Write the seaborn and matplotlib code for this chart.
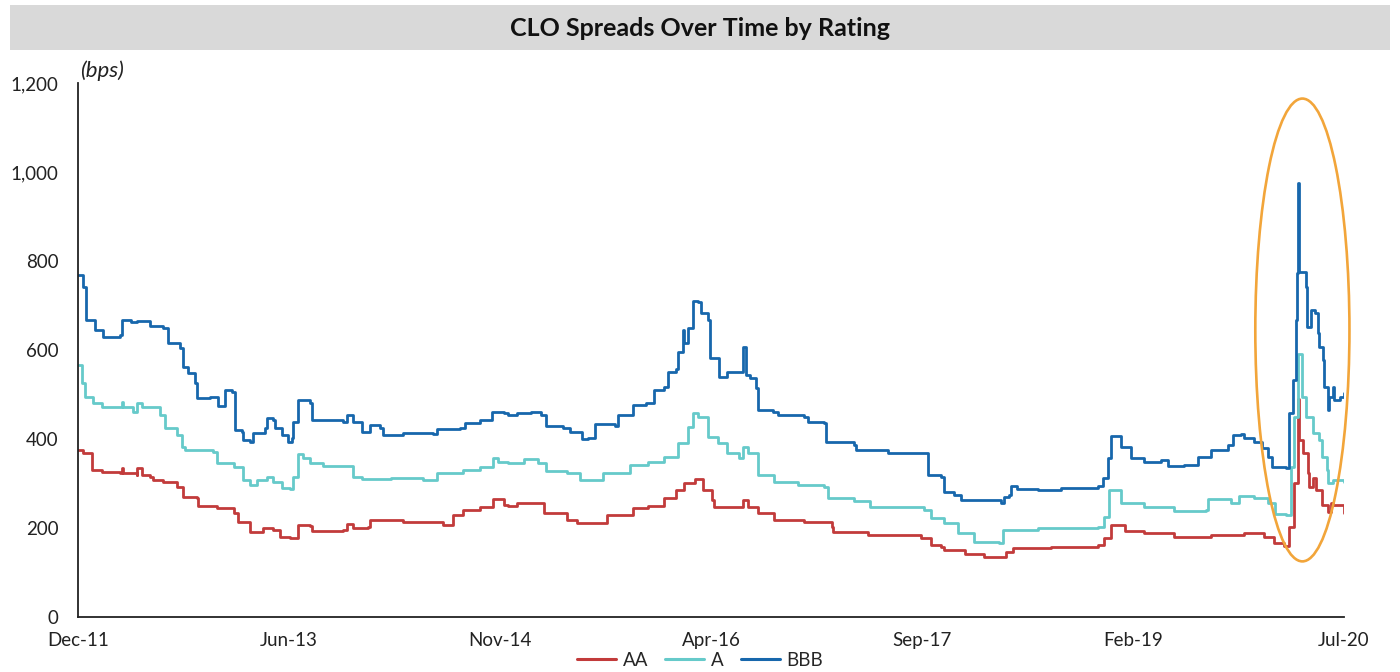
import numpy as np
import pandas as pd
import matplotlib
matplotlib.use("Agg")
import matplotlib.pyplot as plt
import matplotlib.dates as mdates
from matplotlib.patches import Ellipse, Rectangle
from matplotlib.ticker import FuncFormatter
import seaborn as sns

# ---------------- data ----------------
title = "CLO Spreads Over Time by Rating"
unit_label = "(bps)"
series_names = ["AA", "A", "BBB"]
x_tick_labels = ["Dec-11", "Jun-13", "Nov-14", "Apr-16", "Sep-17", "Feb-19", "Jul-20"]
axis_start = "2011-12-30"
axis_end = "2020-07-28"

aa_dates = ["2011-12-30", "2012-01-11", "2012-02-03", "2012-02-28", "2012-04-11", "2012-04-16", "2012-04-19",
            "2012-05-23", "2012-05-25", "2012-06-05", "2012-06-25", "2012-07-02", "2012-07-27", "2012-09-01",
            "2012-09-15", "2012-10-19", "2012-10-22", "2012-12-08", "2013-01-18", "2013-01-28", "2013-02-28",
            "2013-04-01", "2013-04-25", "2013-05-12", "2013-06-07", "2013-06-26", "2013-07-26", "2013-08-01",
            "2013-10-16", "2013-10-26", "2013-11-10", "2013-12-17", "2013-12-22", "2014-03-13", "2014-06-05",
            "2014-06-20", "2014-07-12", "2014-07-15", "2014-08-09", "2014-09-21", "2014-10-23", "2014-11-17",
            "2014-11-27", "2014-12-21", "2015-01-23", "2015-02-24", "2015-04-23", "2015-05-18", "2015-06-27",
            "2015-08-01", "2015-10-04", "2015-11-09", "2015-12-18", "2016-01-17", "2016-02-06", "2016-03-06",
            "2016-03-25", "2016-04-17", "2016-04-20", "2016-06-26", "2016-07-01", "2016-07-13", "2016-08-07",
            "2016-09-16", "2016-11-30", "2017-02-06", "2017-02-10", "2017-05-06", "2017-09-16", "2017-10-10",
            "2017-11-04", "2017-11-12", "2018-01-01", "2018-02-18", "2018-03-27", "2018-04-14", "2018-05-01",
            "2018-08-03", "2018-11-27", "2018-12-12", "2018-12-29", "2019-01-16", "2019-02-01", "2019-03-20",
            "2019-06-03", "2019-09-03", "2019-11-24", "2020-01-13", "2020-02-05", "2020-03-02", "2020-03-15",
            "2020-03-27", "2020-04-06", "2020-04-08", "2020-04-18", "2020-04-30", "2020-05-03", "2020-05-13",
            "2020-05-20", "2020-06-03", "2020-06-19", "2020-06-27", "2020-07-02", "2020-07-24", "2020-07-28"]
aa_values = [375, 368, 330, 326, 324, 335, 324,
             319, 335, 319, 315, 308, 303, 292,
             270, 267, 249, 245, 234, 213, 191,
             200, 195, 180, 178, 207, 204, 193,
             195, 209, 200, 202, 218, 213, 213,
             207, 207, 229, 240, 247, 265, 252,
             249, 256, 256, 234, 218, 211, 211,
             229, 245, 249, 267, 285, 301, 310,
             285, 263, 247, 247, 263, 247, 234,
             218, 213, 202, 191, 184, 178, 162,
             157, 151, 142, 135, 135, 146, 155,
             157, 162, 178, 207, 207, 193, 189,
             180, 184, 189, 180, 166, 160, 202,
             301, 490, 398, 368, 324, 292, 312,
             285, 252, 236, 256, 252, 252, 234]

a_dates = ["2011-12-30", "2012-01-09", "2012-01-16", "2012-02-05", "2012-02-28", "2012-04-11", "2012-04-16",
           "2012-04-19", "2012-05-13", "2012-05-25", "2012-06-05", "2012-07-19", "2012-08-01", "2012-09-01",
           "2012-09-13", "2012-09-20", "2012-11-29", "2012-12-08", "2013-01-18", "2013-02-11", "2013-02-28",
           "2013-03-16", "2013-04-10", "2013-04-25", "2013-05-17", "2013-06-07", "2013-06-14", "2013-06-26",
           "2013-07-09", "2013-07-26", "2013-08-27", "2013-10-26", "2013-11-10", "2013-12-02", "2014-02-11",
           "2014-05-02", "2014-06-05", "2014-08-09", "2014-09-21", "2014-10-23", "2014-11-04", "2014-11-28",
           "2015-01-06", "2015-02-10", "2015-03-01", "2015-04-23", "2015-05-25", "2015-06-27", "2015-07-21",
           "2015-09-27", "2015-11-09", "2015-12-18", "2016-01-22", "2016-02-16", "2016-03-01", "2016-03-13",
           "2016-04-05", "2016-04-30", "2016-05-24", "2016-06-21", "2016-07-01", "2016-07-15", "2016-08-07",
           "2016-09-16", "2016-11-15", "2017-01-19", "2017-01-28", "2017-04-02", "2017-05-13", "2017-08-21",
           "2017-09-23", "2017-10-10", "2017-11-12", "2017-12-16", "2018-01-25", "2018-03-27", "2018-04-06",
           "2018-07-01", "2018-11-27", "2018-12-12", "2018-12-24", "2019-01-16", "2019-01-24", "2019-03-20",
           "2019-06-03", "2019-08-22", "2019-08-27", "2019-10-23", "2019-11-10", "2019-12-19", "2020-01-23",
           "2020-02-08", "2020-03-07", "2020-03-19", "2020-03-27", "2020-04-06", "2020-04-14", "2020-04-26",
           "2020-05-08", "2020-05-13", "2020-05-28", "2020-06-03", "2020-06-15", "2020-06-19", "2020-07-02",
           "2020-07-28"]
a_values = [566, 526, 494, 481, 472, 472, 483,
            472, 461, 481, 472, 454, 425, 409,
            382, 375, 371, 346, 337, 308, 297,
            308, 315, 303, 290, 288, 315, 366,
            357, 346, 339, 339, 315, 310, 312,
            308, 324, 330, 337, 357, 348, 346,
            355, 346, 328, 324, 308, 308, 324,
            342, 348, 360, 391, 427, 458, 449,
            404, 391, 368, 357, 382, 368, 319,
            303, 297, 292, 267, 261, 247, 247,
            240, 222, 211, 189, 169, 166, 195,
            200, 202, 225, 285, 285, 256, 247,
            238, 240, 265, 256, 272, 267, 256,
            231, 229, 337, 449, 590, 495, 449,
            449, 413, 398, 360, 330, 301, 308,
            303]

bbb_dates = ["2011-12-30", "2012-01-11", "2012-01-18", "2012-02-05", "2012-02-10", "2012-02-29", "2012-04-11",
             "2012-04-18", "2012-05-10", "2012-05-23", "2012-06-24", "2012-07-27", "2012-08-08", "2012-09-08",
             "2012-09-15", "2012-09-27", "2012-10-14", "2012-10-19", "2012-11-21", "2012-12-08", "2012-12-10",
             "2012-12-25", "2012-12-28", "2013-01-15", "2013-01-22", "2013-02-09", "2013-02-11", "2013-02-28",
             "2013-03-06", "2013-04-05", "2013-04-10", "2013-04-25", "2013-04-30", "2013-05-19", "2013-06-01",
             "2013-06-11", "2013-06-14", "2013-06-26", "2013-07-26", "2013-08-01", "2013-10-16", "2013-10-26",
             "2013-11-10", "2013-12-02", "2013-12-22", "2014-01-16", "2014-01-24", "2014-03-13", "2014-05-26",
             "2014-06-05", "2014-08-02", "2014-08-14", "2014-09-21", "2014-10-20", "2014-11-17", "2014-11-27",
             "2014-12-21", "2015-01-23", "2015-02-17", "2015-03-01", "2015-04-13", "2015-05-01", "2015-05-30",
             "2015-06-14", "2015-07-02", "2015-08-21", "2015-08-28", "2015-10-02", "2015-10-04", "2015-11-04",
             "2015-11-24", "2015-12-18", "2015-12-28", "2016-01-17", "2016-01-22", "2016-02-04", "2016-02-06",
             "2016-02-16", "2016-02-28", "2016-03-01", "2016-03-13", "2016-03-20", "2016-04-05", "2016-04-12",
             "2016-05-02", "2016-05-04", "2016-05-24", "2016-06-26", "2016-07-01", "2016-07-08", "2016-07-20",
             "2016-08-02", "2016-08-07", "2016-09-14", "2016-09-26", "2016-11-30", "2016-12-09", "2017-01-19",
             "2017-01-24", "2017-04-02", "2017-04-07", "2017-06-25", "2017-09-23", "2017-10-03", "2017-11-04",
             "2017-11-12", "2017-12-06", "2017-12-23", "2018-04-01", "2018-04-08", "2018-04-20", "2018-04-25",
             "2018-05-12", "2018-07-01", "2018-08-27", "2018-11-27", "2018-12-10", "2018-12-22", "2018-12-29",
             "2019-01-16", "2019-01-24", "2019-02-18", "2019-03-13", "2019-03-20", "2019-05-01", "2019-05-19",
             "2019-06-28", "2019-08-02", "2019-09-03", "2019-10-15", "2019-10-28", "2019-11-17", "2019-11-24",
             "2019-12-19", "2020-01-06", "2020-01-23", "2020-01-31", "2020-03-07", "2020-03-15", "2020-03-25",
             "2020-04-01", "2020-04-03", "2020-04-06", "2020-04-08", "2020-04-21", "2020-04-24", "2020-04-28",
             "2020-05-08", "2020-05-18", "2020-05-25", "2020-05-28", "2020-06-07", "2020-06-09", "2020-06-19",
             "2020-06-22", "2020-07-02", "2020-07-04", "2020-07-17", "2020-07-28"]
bbb_values = [768, 741, 667, 667, 645, 629, 634,
              667, 663, 665, 654, 649, 616, 604,
              562, 548, 526, 492, 494, 494, 474,
              474, 510, 506, 420, 416, 398, 393,
              413, 425, 447, 443, 425, 409, 393,
              402, 438, 488, 481, 443, 438, 454,
              438, 416, 431, 425, 409, 413, 411,
              422, 425, 436, 443, 461, 458, 454,
              458, 461, 454, 429, 425, 416, 400,
              402, 434, 429, 454, 454, 476, 481,
              510, 517, 551, 557, 595, 645, 616,
              649, 652, 710, 708, 683, 667, 582,
              582, 539, 551, 551, 607, 544, 537,
              515, 465, 461, 454, 449, 438, 436,
              393, 387, 375, 368, 368, 319, 315,
              281, 274, 263, 256, 270, 274, 294,
              288, 285, 290, 294, 312, 357, 407,
              407, 382, 357, 357, 348, 353, 339,
              342, 360, 375, 387, 409, 411, 402,
              393, 380, 360, 337, 335, 458, 533,
              667, 773, 975, 775, 775, 741, 652,
              690, 683, 638, 607, 577, 517, 465,
              494, 517, 488, 494, 503]

# highlight ellipse around the 2020 spike
highlight_center_date = "2020-04-16"
highlight_center_value = 645
highlight_width_days = 233
highlight_height_value = 1040

# ---------------- styling ----------------
colors = {"AA": "#C23B3B", "A": "#66CACA", "BBB": "#1767AC"}

sns.set_style("white")
plt.rcParams["font.family"] = ["Lato", "DejaVu Sans"]

frames = []
for name, d, v in [("AA", aa_dates, aa_values), ("A", a_dates, a_values), ("BBB", bbb_dates, bbb_values)]:
    frames.append(pd.DataFrame({"date": pd.to_datetime(d), "value": v, "rating": name}))
df = pd.concat(frames, ignore_index=True)

fig = plt.figure(figsize=(14, 6.72), dpi=100)
ax = fig.add_axes([78 / 1400, 1 - 617 / 672, (1344 - 78) / 1400, (617 - 83) / 672])

# title bar
fig.patches.append(Rectangle((10 / 1400, 1 - 50 / 672), 1380 / 1400, 45 / 672,
                             transform=fig.transFigure, facecolor="#D9D9D9", edgecolor="none", zorder=0))
fig.text(0.5, 1 - 29 / 672, title, ha="center", va="center", fontsize=18, fontweight="bold", color="#111111")

sns.lineplot(data=df, x="date", y="value", hue="rating", hue_order=series_names, palette=colors,
             estimator=None, linewidth=2.0, drawstyle="steps-post", ax=ax, legend=False)

start = pd.Timestamp(axis_start)
end = pd.Timestamp(axis_end)
ax.set_xlim(start, end)
ax.set_ylim(0, 1200)
ax.set_yticks(np.arange(0, 1201, 200))
ax.yaxis.set_major_formatter(FuncFormatter(lambda v, p: f"{int(v):,}"))
tick_pos = pd.to_datetime(np.linspace(start.value, end.value, len(x_tick_labels)))
ax.set_xticks(tick_pos)
ax.set_xticklabels(x_tick_labels)
ax.set_xlabel("")
ax.set_ylabel("")

for s in ["top", "right"]:
    ax.spines[s].set_visible(False)
for s in ["left", "bottom"]:
    ax.spines[s].set_color("#222222")
    ax.spines[s].set_linewidth(1.3)
ax.tick_params(axis="both", which="major", direction="out", length=5, width=1.2, color="#222222",
               labelsize=13.5, labelcolor="#222222")
ax.tick_params(axis="y", pad=9)
ax.tick_params(axis="x", pad=6)
ax.grid(False)

ax.text(0.002, 1.004, unit_label, transform=ax.transAxes, ha="left", va="bottom",
        fontsize=16, fontstyle="italic", color="#222222")

cx = mdates.date2num(pd.Timestamp(highlight_center_date))
ell = Ellipse((cx, highlight_center_value), highlight_width_days, highlight_height_value,
              facecolor="none", edgecolor="#F2A53A", linewidth=1.9, zorder=5, clip_on=False)
ax.add_patch(ell)

handles = [plt.Line2D([], [], color=colors[n], linewidth=2.2) for n in series_names]
fig.legend(handles, series_names, loc="center", bbox_to_anchor=(0.5, 1 - 660 / 672), ncol=3,
           frameon=False, fontsize=13.5, handlelength=2.1, handletextpad=0.35, columnspacing=0.9,
           borderaxespad=0, borderpad=0)

fig.savefig("out.png", dpi=100, facecolor="white")
